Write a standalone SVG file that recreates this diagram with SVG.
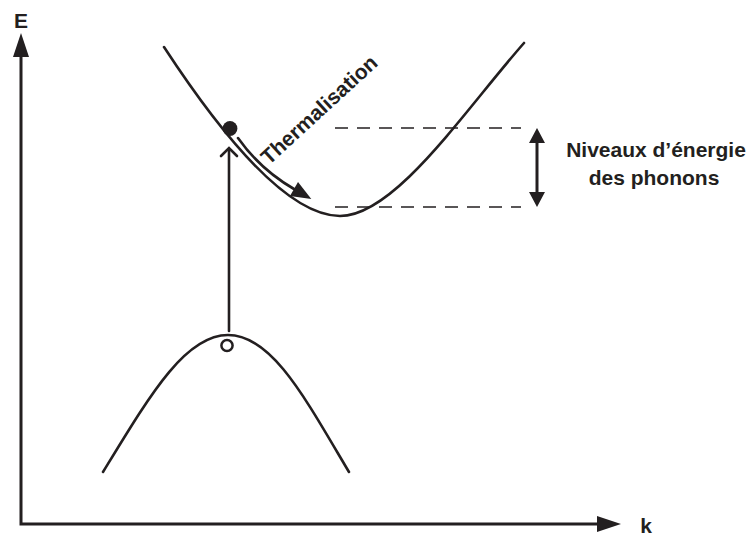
<svg xmlns="http://www.w3.org/2000/svg" width="749" height="536" viewBox="0 0 749 536">
  <style>
    .ax { stroke: #231f20; stroke-width: 3; fill: none; }
    .crv { stroke: #231f20; stroke-width: 2.6; fill: none; stroke-linecap: round; }
    .dash { stroke: #231f20; stroke-width: 1.6; fill: none; stroke-dasharray: 13 9; }
    .lbl { font-family: "Liberation Sans", Arial, sans-serif; font-weight: bold; font-size: 21px; fill: #231f20; }
    .head { fill: #231f20; }
  </style>
  <defs>
    <marker id="tri" markerUnits="userSpaceOnUse" markerWidth="22" markerHeight="16" refX="0" refY="8" orient="auto" overflow="visible">
      <path d="M0,0 L20,8 L0,16 z" class="head"/>
    </marker>
  </defs>
  <rect width="749" height="536" fill="#ffffff"/>

  <g id="axes">
    <polyline class="ax" points="21,57 21,524 597,524"/>
    <polygon class="head" points="21,33 13,57 29,57"/>
    <polygon class="head" points="621,524 597,516 597,532"/>
    <text class="lbl" x="21" y="28" text-anchor="middle" font-size="22">E</text>
    <text class="lbl" x="646" y="533" text-anchor="middle" font-size="22">k</text>
  </g>

  <g id="conduction-band">
    <path class="crv" d="M164,47 C215,125 285,216 340,216 C395,216 465,110 524,43"/>
  </g>

  <g id="valence-band">
    <path class="crv" d="M103,472 C150,395 185,335 228,335 C272,335 305,398 349,472"/>
  </g>

  <g id="phonon-levels">
    <line class="dash" x1="335" y1="128" x2="521" y2="128"/>
    <line class="dash" x1="335" y1="207" x2="521" y2="207"/>
  </g>

  <g id="connectors">
    <g id="excitation-arrow">
      <line class="crv" x1="229" y1="331" x2="229" y2="149"/>
      <polyline class="crv" points="221,156 229,148 237,156" stroke-linejoin="miter"/>
    </g>
    <g id="thermalisation-arrow">
      <path class="crv" d="M238,138 C255,162 275,178 294,189" marker-end="url(#tri)"/>
    </g>
    <g id="level-arrow">
      <line x1="537" y1="142" x2="537" y2="193" stroke="#231f20" stroke-width="3"/>
      <polygon class="head" points="537,128 529,143 545,143"/>
      <polygon class="head" points="537,207 529,192 545,192"/>
    </g>
  </g>

  <g id="electron">
    <circle cx="230" cy="128.5" r="7.4" fill="#231f20"/>
  </g>

  <g id="hole">
    <circle cx="227" cy="345.5" r="5.6" fill="#ffffff" stroke="#231f20" stroke-width="2.5"/>
  </g>

  <g id="thermalisation-label">
    <text class="lbl" x="324" y="115" text-anchor="middle" transform="rotate(-42.5 324 115)">Thermalisation</text>
  </g>

  <g id="phonon-label">
    <text class="lbl" x="656" y="157" text-anchor="middle">Niveaux d’énergie</text>
    <text class="lbl" x="654" y="185" text-anchor="middle">des phonons</text>
  </g>
</svg>
